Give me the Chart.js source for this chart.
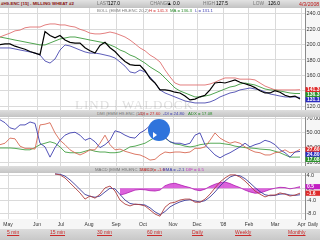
<!DOCTYPE html>
<html>
<head>
<meta charset="utf-8">
<script src="https://cdn.jsdelivr.net/npm/chart.js@4.4.1/dist/chart.umd.min.js"></script>
<style>
body{margin:0;width:320px;height:240px;overflow:hidden;background:#ececec;font-family:'Liberation Sans',Arial,sans-serif;position:relative}
.a{position:absolute;white-space:nowrap}
canvas{position:absolute;left:0;background:#f6f6f6}
#bar{left:0;top:0;width:320px;height:8px;background:linear-gradient(#e2e2e2,#c2c2c2)}
.band{left:0;width:320px;height:7px;background:linear-gradient(#dedede,#c4c4c4)}
#btns{left:0;top:229px;width:320px;height:11px;background:linear-gradient(#dcdcdc,#c8c8c8)}
.s{font-size:4.8px;line-height:8px;top:0}
.l{font-size:4.3px;line-height:5px}
.g{color:#777}
.b{color:#8b1010;font-weight:bold;font-size:4.4px}
.btn{font-size:5px;line-height:5px;top:230px;color:#cc2a2a;text-decoration:underline}
#wm{left:75px;top:97px;font-family:'Liberation Serif',serif;font-size:13px;letter-spacing:1px;color:rgba(110,110,110,0.22)}
#dot{left:148px;top:119px;width:22px;height:22px;border-radius:50%;background:#2f74dc}
#dot i{position:absolute;left:5px;top:13px;border-left:4px solid #fff;border-top:3px solid transparent;border-bottom:3px solid transparent}
</style>
</head>
<body>
<div class="a" id="bar"></div>
<canvas id="c1" width="320" height="102" style="top:8px"></canvas>
<div class="a band" style="top:110px"></div>
<canvas id="c2" width="320" height="49" style="top:117px"></canvas>
<div class="a band" style="top:166px"></div>
<canvas id="c3" width="320" height="56" style="top:173px"></canvas>
<div class="a" id="btns"></div>

<span class="a s b" style="left:1px">#H9-ENC [15] - MILLING WHEAT #2</span>
<span class="a s g" style="left:97px">LAST</span><span class="a s" style="left:108px">127.0</span>
<span class="a s g" style="left:150px">CHANGE</span><span class="a s" style="left:167px">&#9650; 0.0</span>
<span class="a s g" style="left:203px">HIGH</span><span class="a s" style="left:216px">127.5</span>
<span class="a s g" style="left:253px">LOW</span><span class="a s" style="left:268px">126.0</span>
<span class="a s" style="left:299px;color:#c01818;font-size:5.2px">4/3/2008</span>

<span class="a l g" style="left:97px;top:8px">BOLL (EMM H9-ENC 20,2)</span>
<span class="a l" style="left:149px;top:8px;color:#d23030">H = 141.3</span>
<span class="a l" style="left:170px;top:8px;color:#2a8a2a">MA = 136.3</span>
<span class="a l" style="left:195px;top:8px;color:#3a3ab0">L = 131.1</span>

<span class="a l g" style="left:97px;top:111px">DMI (EMM H9-ENC (15))</span>
<span class="a l" style="left:138px;top:111px;color:#d23030">+DI = 27.60</span>
<span class="a l" style="left:163px;top:111px;color:#3a3ab0">-DI = 24.80</span>
<span class="a l" style="left:188px;top:111px;color:#2a8a2a">ADX = 17.08</span>

<span class="a l g" style="left:95px;top:167px">MACD (EMM H9-ENC 12,26,9)</span>
<span class="a l" style="left:140px;top:167px;color:#d23030">MACD = -1.6</span>
<span class="a l" style="left:163px;top:167px;color:#3a3ab0">EMA = -2.1</span>
<span class="a l" style="left:186px;top:167px;color:#c030c0">DIF = 0.5</span>

<span class="a" style="left:308px;top:222px;font-size:4.5px;color:#333">Daily</span>
<span class="a btn" style="left:7px">5 min</span>
<span class="a btn" style="left:50px">15 min</span>
<span class="a btn" style="left:97px">30 min</span>
<span class="a btn" style="left:147px">60 min</span>
<span class="a btn" style="left:192px">Daily</span>
<span class="a btn" style="left:235px">Weekly</span>
<span class="a btn" style="left:288px">Monthly</span>

<div class="a" id="wm">LIND | WALDOCK</div>
<div class="a" id="dot"><i></i></div>

<script>
// month ticks (sample index units) and labels
var monthTicks = [1.6, 7.4, 12.2, 17.8, 23.2, 28.6, 34.6, 39.4, 44.6, 49.8, 55, 60.3];
var monthLabels = ['May', 'Jun', 'Jul', 'Aug', 'Sep', 'Oct', 'Nov', 'Dec', "'08", 'Feb', 'Mar', 'Apr'];

var priceTicks = [120, 130, 140, 150, 160, 170, 180, 190, 200, 210, 220, 230, 240];
var dmiTicks = [10, 20, 30, 40, 50, 60, 70];
var macdTicks = [-8, -6, -4, -2, 0, 2, 4];

// price + bollinger bands
var price = [200, 201, 201, 198, 196, 194, 191, 189, 187, 217, 212, 209, 212, 206, 203, 202, 202, 196, 192, 189,
	199, 203, 196, 191, 184, 178, 174, 173, 173, 166, 156, 150, 141, 141, 140, 138, 137, 133, 128, 129,
	132, 134, 141, 150, 151, 150, 152, 154, 151, 149, 147, 144, 140, 137, 137, 140, 138, 134, 132, 133, 129];
var bollHigh = [210, 212.6, 215, 218, 219, 222, 223, 223, 223, 225.7, 227, 227, 225.7, 225.7, 224, 223, 220, 218, 215, 214,
	214, 215, 216.5, 215, 212.6, 210, 206, 201, 195.7, 192, 186.5, 182.6, 177.4, 167, 158, 150, 147.4, 147.4, 147.4, 147.4,
	147.4, 147.4, 148.7, 151, 154, 156.6, 156.6, 156.6, 155, 155, 155, 154, 150, 146, 143.5, 141, 141, 141, 141, 141, 141.3];
var bollMid = [210, 208.7, 207.4, 206, 204.8, 203.5, 202.2, 201, 199.6, 199.6, 202.2, 204.8, 207.4, 208.7, 210, 210, 208.7, 207.4, 206, 204.8,
	203.5, 202.2, 199.6, 197, 193, 190.5, 186.5, 184, 180, 176, 171, 167, 163, 156.6, 150, 143.5, 139.6, 137, 134.4, 131.8,
	131.8, 133, 134.4, 137, 139.6, 142.2, 144.8, 146, 148.7, 150, 148.7, 147.4, 144.8, 142.2, 141, 141, 139.6, 138.3, 137, 136.3, 136.3];
var bollLow = [195.7, 195.7, 195.7, 194.4, 193, 191.8, 190.5, 189, 186.5, 178.7, 176, 181.3, 193, 199.6, 198.3, 195.7, 193, 190.5, 189, 189,
	188, 186.5, 185, 182.6, 177.4, 172, 164.4, 163, 167, 164.4, 158, 150, 141, 137, 134.4, 131.8, 129.2, 126.6, 125.3, 124,
	124, 124, 125.3, 128, 131.8, 134.4, 137, 138.3, 141, 142.2, 143.5, 142.2, 141, 138.3, 135.7, 134.4, 133, 131.8, 131.8, 131.8, 131.1];

// DMI
var plusDI = [34, 36, 43, 42, 32, 29, 29, 28, 61, 62, 64, 50, 40, 34, 27, 23, 20, 23, 27, 27,
	36, 47, 34, 27, 28, 25, 23, 21, 20, 17, 13, 14, 20, 24, 23, 24, 24, 23, 24, 29,
	29, 31, 40, 50, 43, 39, 36, 38, 36, 31, 27, 24, 23, 20, 20, 23, 24, 27, 23, 24, 27.6];
var minusDI = [68, 64, 57, 55, 61, 61, 65, 63, 36, 31, 17, 30, 40, 47, 50, 51, 47, 40, 43, 38,
	30, 34, 40, 53, 51, 47, 44, 43, 50, 54, 60, 61, 57, 44, 38, 36, 36, 34, 36, 47,
	50, 34, 27, 20, 16, 20, 23, 27, 31, 36, 31, 34, 36, 40, 38, 34, 27, 23, 17, 24, 24.8];
var adx = [29.5, 29.5, 29.5, 29, 28, 27, 27, 30, 34, 36, 38, 36, 31, 24, 23, 23, 23, 25, 27, 25,
	24, 24, 23, 23, 24, 27, 31, 32, 34, 36, 40, 44, 50, 43, 38, 35, 34, 32, 31, 32,
	34, 35, 36, 36, 36, 35, 34, 32, 31, 30, 29.5, 29, 28, 27.5, 27, 25, 23, 20, 17, 17, 17.08];

// MACD (starts later)
var macdStart = 11;
var macd = [4.6, 4.3, 3.3, 1.7, 0.1, -1.5, -3.5, -2.5, -3.2, -1.9, 0.1, 0.7, -0.9, -3.8, -5.1, -5.7, -5.1, -5.3, -5.7, -7.0,
	-8.3, -9.0, -6.1, -4.8, -4.5, -3.8, -3.5, -3.5, -4.5, -4.5, -3.5, -1.9, 0.1, 2.0, 3.3, 4.3, 4.3, 3.6, 2.3, 0.7,
	-0.9, -1.9, -2.8, -2.2, -2.2, -1.5, -1.9, -2.5, -2.2, -1.6];
var ema = [4.6, 4.5, 3.9, 2.7, 1.2, -0.4, -2.0, -2.6, -2.9, -2.5, -1.2, 0.0, -0.2, -2.0, -3.8, -4.9, -5.2, -5.2, -5.4, -6.3,
	-7.6, -8.5, -7.5, -6.0, -5.1, -4.4, -3.9, -3.7, -4.1, -4.4, -4.0, -2.8, -1.2, 0.7, 2.3, 3.6, 4.2, 4.0, 3.1, 1.7,
	0.2, -1.1, -2.1, -2.4, -2.3, -1.9, -1.8, -2.2, -2.3, -2.1];
var difStart = 24;
var dif = [-2.2, -1.8, -1.2, -0.6, -0.4, -0.5, -0.8, -0.9, -0.6, 0.8, 1.4, 1.6, 1.1, 0.6, 0.2, -0.5, -0.8, -0.3, 0.6, 1.3,
	1.8, 2.0, 1.5, 0.8, 0.2, -0.6, -1.2, -1.6, -1.5, -1.0, -0.4, 0.0, 0.3, 0.2, -0.2, 0.1, 0.5];

Chart.defaults.font.family = "'Liberation Sans', Arial, sans-serif";
Chart.defaults.font.size = 5.5;
Chart.defaults.color = '#333';

function pts(values, start){
	return values.map(function(v, i){ return {x: start + i, y: v}; });
}

function line(values, start, color, width, order){
	return {data: pts(values, start), borderColor: color, borderWidth: width, pointRadius: 0, tension: 0, order: order || 1};
}

var panelBg = {
	id: 'panelBg',
	beforeDraw: function(chart){
		var a = chart.chartArea, ctx = chart.ctx;
		ctx.save();
		ctx.fillStyle = '#ffffff';
		ctx.fillRect(a.left, a.top, a.right - a.left, a.bottom - a.top);
		ctx.restore();
	}
};

//last value boxes on the right axis
var lastBoxes = {
	id: 'lastBoxes',
	afterDraw: function(chart, args, opts){
		var ctx = chart.ctx, y = chart.scales.y, prev = -99;
		ctx.save();
		ctx.font = "bold 5px 'Liberation Sans'";
		ctx.textBaseline = 'middle';
		opts.items.forEach(function(b){
			var py = Math.max(y.getPixelForValue(b.value), prev + 5);
			prev = py;
			ctx.fillStyle = b.color;
			ctx.fillRect(y.left + 0.5, py - 2.6, 15, 5.2);
			ctx.fillStyle = '#fff';
			ctx.fillText(b.value.toFixed(b.digits), y.left + 2, py + 0.3);
		});
		ctx.restore();
	}
};

function xScale(showLabels){
	return {
		type: 'linear', min: 0, max: 61,
		afterBuildTicks: function(s){ s.ticks = monthTicks.map(function(v){ return {value: v}; }); },
		afterFit: function(s){ s.height = showLabels ? 10 : 0; s.paddingLeft = 0; s.paddingRight = 0; },
		grid: {color: '#dadada', drawTicks: false},
		border: {display: false},
		ticks: {display: showLabels, autoSkip: false, maxRotation: 0, padding: 3, font: {size: 5},
			callback: function(v, i){ return monthLabels[i]; }}
	};
}

function yScale(min, max, ticks, digits){
	return {
		position: 'right', min: min, max: max,
		afterBuildTicks: function(s){ s.ticks = ticks.map(function(v){ return {value: v}; }); },
		afterFit: function(s){ s.width = 15; s.paddingTop = 0; s.paddingBottom = 0; },
		grid: {color: '#dadada', drawTicks: false},
		border: {display: true, color: '#8a8a8a'},
		ticks: {padding: 1.5, callback: function(v){ return v.toFixed(digits); }}
	};
}

function makeChart(id, datasets, y, showLabels, boxes){
	return new Chart(document.getElementById(id), {
		type: 'line',
		data: {datasets: datasets},
		options: {
			responsive: false, animation: false, devicePixelRatio: 1,
			layout: {padding: 0},
			scales: {x: xScale(showLabels), y: y},
			plugins: {legend: {display: false}, tooltip: {enabled: false}, lastBoxes: {items: boxes}}
		},
		plugins: [panelBg, lastBoxes]
	});
}

makeChart('c1', [
	line(price, 0, '#000000', 1.2, 0),
	line(bollHigh, 0, '#e07070', 0.9),
	line(bollMid, 0, '#3c9a3c', 0.9),
	line(bollLow, 0, '#4a4ab0', 0.9)
], yScale(114.8, 247.8, priceTicks, 1), false, [
	{value: bollHigh[bollHigh.length - 1], color: '#de2a2a', digits: 1},
	{value: bollMid[bollMid.length - 1], color: '#2a922a', digits: 1},
	{value: bollLow[bollLow.length - 1], color: '#2c2cc0', digits: 1}
]);

makeChart('c2', [
	line(minusDI, 0, '#4040b0', 0.9),
	line(plusDI, 0, '#d86a55', 0.9),
	line(adx, 0, '#44a044', 0.9)
], yScale(4.9, 71.8, dmiTicks, 2), false, [
	{value: plusDI[plusDI.length - 1], color: '#de2a2a', digits: 2},
	{value: minusDI[minusDI.length - 1], color: '#2c2cc0', digits: 2},
	{value: adx[adx.length - 1], color: '#2a922a', digits: 2}
]);

var hist = line(dif, difStart, '#b01cb0', 0.8, 3);
hist.fill = 'origin';
hist.backgroundColor = 'rgba(214,70,214,0.85)';

makeChart('c3', [
	hist,
	line(macd, macdStart, '#b04040', 0.9),
	line(ema, macdStart, '#3c3c9c', 0.9)
], yScale(-9.9, 4.9, macdTicks, 1), true, [
	{value: dif[dif.length - 1], color: '#c21ec2', digits: 1},
	{value: macd[macd.length - 1], color: '#de2a2a', digits: 1}
]);
</script>
</body>
</html>
